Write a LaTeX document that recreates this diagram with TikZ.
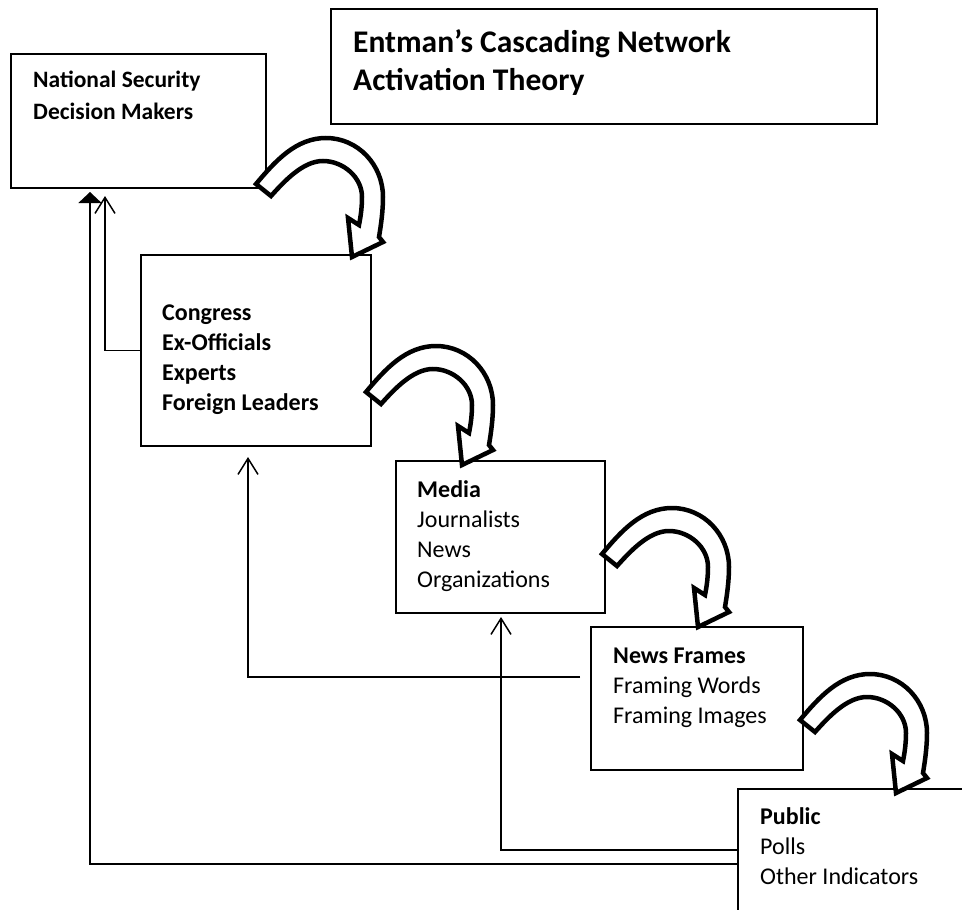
\documentclass[tikz,border=0pt]{standalone}
\usepackage{fontspec}
\setmainfont{Carlito}
\usetikzlibrary{arrows.meta}
\newcommand{\CurvedBlockArrow}{%
 \draw[bigarrow] (-70,13) .. controls (-50.7,36) and (-30,59) .. (0,59)
  .. controls (32,59) and (57,32) .. (57,0)
  .. controls (57,-14) and (55,-28) .. (53,-40)
  -- (57,-45) -- (26,-60) -- (22,-21) -- (33,-28)
  .. controls (35,-18) and (36,-9) .. (36,0)
  .. controls (36,20) and (17,36) .. (-3,36)
  .. controls (-23,36) and (-41.6,15.9) .. (-55,1) -- cycle;}
\begin{document}
\begin{tikzpicture}[x=1pt,y=-1pt,
  box/.style={draw, line width=1.6pt, rectangle, inner sep=0pt, outer sep=0pt, fill=white, anchor=north west},
  lbl/.style={anchor=base west, align=left, inner sep=0pt, font=\fontsize{24}{29.7}\selectfont},
  fb/.style={line width=1.5pt, -{Straight Barb[length=16pt,width=20pt,line width=1.5pt]}},
  fbfill/.style={line width=1.5pt, -{Triangle[length=11pt,width=23pt]}},
  bigarrow/.style={draw, fill=white, line width=4.5pt, line join=miter}
]
\useasboundingbox (0,0) rectangle (962,910);
\clip (0,0) rectangle (962,910);
\fill[white] (0,0) rectangle (962,910);

% boxes
\node[box, minimum width=546pt, minimum height=115pt] (title) at (331,9) {};
\node[box, minimum width=255pt, minimum height=134pt] (nsdm) at (11,54) {};
\node[box, minimum width=230pt, minimum height=191pt] (cong) at (141,255) {};
\node[box, minimum width=209pt, minimum height=152pt] (media) at (396,461) {};
\node[box, minimum width=212pt, minimum height=143pt] (nf) at (591,627) {};
\node[box, minimum width=262pt, minimum height=171pt] (pub) at (738,789) {};

% texts (anchored at the baseline of the last line)
\node[lbl, font=\fontsize{31.5}{38}\selectfont\bfseries] (ttitle) at (353,90) {Entman’s Cascading Network\\Activation Theory};
\node[lbl, font=\fontsize{23.5}{32}\selectfont\bfseries] (tnsdm) at (33,119) {National Security\\Decision Makers};
\node[lbl, font=\fontsize{24}{29.7}\selectfont\bfseries] (tcong) at (162,410) {Congress\\Ex-Officials\\Experts\\Foreign Leaders};
\node[lbl] (tmedia) at (417,587) {\textbf{Media}\\Journalists\\News\\Organizations};
\node[lbl, font=\fontsize{24}{30}\selectfont] (tnf) at (613,723) {\textbf{News Frames}\\Framing Words\\Framing Images};
\node[lbl] (tpub) at (760,884) {\textbf{Public}\\Polls\\Other Indicators};

% feedback connectors
\coordinate (nfend) at ([xshift=-11pt,yshift=-50pt]nf.north west);
\draw[fb] (cong.west) -| ([xshift=94pt,yshift=-8pt]nsdm.south west);
\draw[fbfill] ([yshift=-75pt]pub.north west) -| ([xshift=79pt,yshift=-4pt]nsdm.south west);
\draw[fb] ([yshift=-61pt]pub.north west) -| ([xshift=105pt,yshift=-4pt]media.south west);
\draw[fb] (nfend) -| ([xshift=107pt,yshift=-11pt]cong.south west);

% curved block arrows
\begin{scope}[shift={(326,197)}, yscale=-1]\CurvedBlockArrow\end{scope}
\begin{scope}[shift={(436,405)}, yscale=-1]\CurvedBlockArrow\end{scope}
\begin{scope}[shift={(672,567)}, yscale=-1]\CurvedBlockArrow\end{scope}
\begin{scope}[shift={(870,733)}, yscale=-1]\CurvedBlockArrow\end{scope}
\end{tikzpicture}
\end{document}
